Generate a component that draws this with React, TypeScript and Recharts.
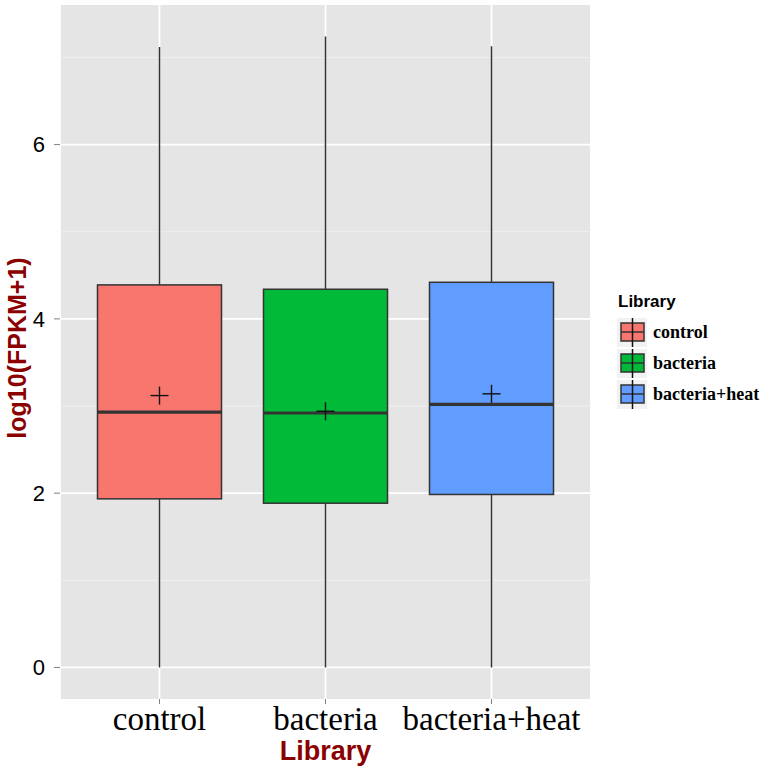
import * as React from 'react';
import { Bar, CartesianGrid, ComposedChart, Line, XAxis, YAxis } from 'recharts';

// values
const categories = ['control', 'bacteria', 'bacteria+heat'];
const whiskerLow = [0, 0, 0];
const lowerQuartile = [1.935, 1.885, 1.985];
const medians = [2.93, 2.92, 3.02];
const upperQuartile = [4.39, 4.34, 4.42];
const whiskerHigh = [7.12, 7.24, 7.13];
const means = [3.12, 2.94, 3.14];
const yTicks = [0, 2, 4, 6];
const yMinorTicks = [1, 3, 5, 7];

const boxColors = ['#F8766D', '#00BA38', '#619CFF'];
const lineColor = '#333333';
const titleColor = '#8B0000';

const data = categories.map((name, i) => ({
  name,
  range: [whiskerLow[i], whiskerHigh[i]],
  low: whiskerLow[i],
  q1: lowerQuartile[i],
  median: medians[i],
  q3: upperQuartile[i],
  high: whiskerHigh[i],
  mean: means[i],
}));

const BoxShape = (props: any) => {
  const { x, y, width, height, payload } = props;
  const top = Math.min(y, y + height);
  const bottom = Math.max(y, y + height);
  const perUnit = (bottom - top) / (payload.high - payload.low);
  const py = (v: number) => bottom - (v - payload.low) * perUnit;
  const cx = x + width / 2;
  const color = boxColors[categories.indexOf(payload.name)];
  return (
    <g>
      <line x1={cx} x2={cx} y1={py(payload.high)} y2={py(payload.q3)} stroke={lineColor} strokeWidth={1.5} />
      <line x1={cx} x2={cx} y1={py(payload.q1)} y2={py(payload.low)} stroke={lineColor} strokeWidth={1.5} />
      <rect x={x} y={py(payload.q3)} width={width} height={py(payload.q1) - py(payload.q3)} fill={color} stroke={lineColor} strokeWidth={1.5} />
      <line x1={x} x2={x + width} y1={py(payload.median)} y2={py(payload.median)} stroke={lineColor} strokeWidth={3.2} />
    </g>
  );
};

const PlusDot = (props: any) => {
  const { cx, cy, index } = props;
  if (cx == null || cy == null) return <g key={index} />;
  return (
    <g key={`mean-${index}`}>
      <line x1={cx - 9} x2={cx + 9} y1={cy} y2={cy} stroke="#111" strokeWidth={1.4} />
      <line x1={cx} x2={cx} y1={cy - 9} y2={cy + 9} stroke="#111" strokeWidth={1.4} />
    </g>
  );
};

const XTitle = (props: any) => {
  const vb = props.viewBox;
  return (
    <text x={vb.x + vb.width / 2} y={vb.y + 61} textAnchor="middle" fill={titleColor}
      fontFamily="'Liberation Sans', Arial, sans-serif" fontWeight="bold" fontSize={27}>
      Library
    </text>
  );
};

const YTitle = () => (
  <text x={26} y={348} transform="rotate(-90, 26, 348)" textAnchor="middle" fill={titleColor}
    fontFamily="'Liberation Sans', Arial, sans-serif" fontWeight="bold" fontSize={25}>
    log10(FPKM+1)
  </text>
);

const LegendKey = ({ color }: { color: string }) => (
  <svg width={30} height={29} style={{ display: 'block' }}>
    <rect x={0} y={0} width={30} height={29} fill="#F2F2F2" />
    <rect x={4} y={5} width={23} height={18} fill={color} stroke={lineColor} strokeWidth={1.5} />
    <line x1={4} x2={27} y1={14} y2={14} stroke={lineColor} strokeWidth={1.5} />
    <line x1={15.5} x2={15.5} y1={0} y2={29} stroke="#111" strokeWidth={1.5} />
  </svg>
);

export default function App() {
  return (
    <div style={{ position: 'absolute', left: 0, top: 0, width: 768, height: 772, background: '#fff' }}>
      <ComposedChart width={768} height={772} data={data} margin={{ top: 5, right: 177, bottom: 0, left: 0 }}>
        <CartesianGrid fill="#E5E5E5" fillOpacity={1} stroke="#FFFFFF" strokeWidth={1.8}
          horizontalValues={yTicks} />
        <CartesianGrid fill="none" stroke="#F2F2F2" strokeWidth={0.8} vertical={false}
          horizontalValues={yMinorTicks} />
        <XAxis dataKey="name" padding={{ left: 16.5, right: 16.5 }} height={73} axisLine={false}
          tickSize={5} tickMargin={3} tickLine={{ stroke: '#7F7F7F' }}
          tick={{ fill: '#000', fontSize: 33, fontFamily: "'Liberation Serif', 'Times New Roman', serif" }}
          interval={0} label={<XTitle />} />
        <YAxis type="number" domain={[-0.362, 7.602]} ticks={yTicks} allowDataOverflow width={60}
          axisLine={false} tickSize={6} tickMargin={9} tickLine={{ stroke: '#7F7F7F' }}
          tick={{ fill: '#000', fontSize: 22, fontFamily: "'Liberation Sans', Arial, sans-serif" }}
          label={<YTitle />} />
        <Bar dataKey="range" barSize={124} shape={<BoxShape />} isAnimationActive={false} />
        <Line dataKey="mean" stroke="none" dot={PlusDot} activeDot={false} isAnimationActive={false} />
      </ComposedChart>
      <div style={{ position: 'absolute', left: 617, top: 292, fontFamily: "'Liberation Sans', Arial, sans-serif" }}>
        <div style={{ fontWeight: 'bold', fontSize: 17, color: '#000', marginBottom: 6, marginLeft: 1 }}>Library</div>
        {categories.map((c, i) => (
          <div key={c} style={{ display: 'flex', alignItems: 'center', height: 29, marginBottom: 2 }}>
            <LegendKey color={boxColors[i]} />
            <span style={{ marginLeft: 6, fontWeight: 'bold', fontSize: 18, fontFamily: "'Liberation Serif', 'Times New Roman', serif" }}>{c}</span>
          </div>
        ))}
      </div>
    </div>
  );
}
